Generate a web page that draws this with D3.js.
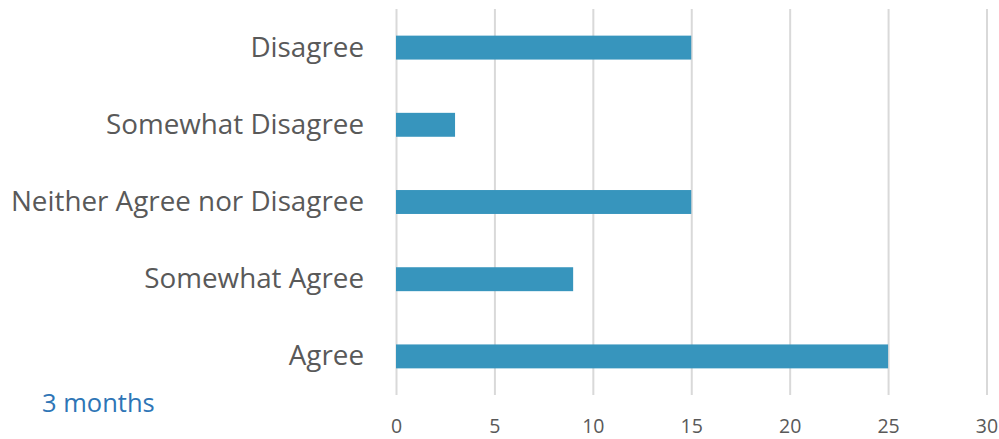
<!DOCTYPE html>
<html>
<head>
<meta charset="utf-8">
<script src="https://cdn.jsdelivr.net/npm/d3@7"></script>
<style>
  body { margin: 0; background: #fff; }
  svg { display: block; font-family: "Open Sans", "Noto Sans", sans-serif; }
  .grid line { stroke: #d9d9d9; stroke-width: 2; }
  .grid path { display: none; }
  .axis text { font-family: "Open Sans", "Noto Sans", sans-serif; fill: #595959; }
  .x-axis text { font-size: 19.5px; }
  .x-axis path, .x-axis line { display: none; }
  .y-axis text { font-size: 27.8px; }
  .y-axis path, .y-axis line { display: none; }
</style>
</head>
<body>
<svg id="chart"></svg>
<script>
// categories from top to bottom
const categories = ["Disagree", "Somewhat Disagree", "Neither Agree nor Disagree", "Somewhat Agree", "Agree"];
const values = [15, 3, 15, 9, 25];
const xTicks = [0, 5, 10, 15, 20, 25, 30];
const seriesLabel = "3 months";

const config = {
  containerWidth: 999,
  containerHeight: 439,
  margin: {top: 9, right: 12.5, bottom: 44, left: 396}
};
const width = config.containerWidth - config.margin.left - config.margin.right;
const height = config.containerHeight - config.margin.top - config.margin.bottom;

const data = categories.map((c, i) => ({category: c, value: values[i]}));

const svg = d3.select("#chart")
  .attr("width", config.containerWidth)
  .attr("height", config.containerHeight);

const chart = svg.append("g")
  .attr("transform", `translate(${config.margin.left},${config.margin.top})`);

const xScale = d3.scaleLinear()
  .domain([0, 30])
  .range([0, width]);

const yScale = d3.scaleBand()
  .domain(categories)
  .range([0, height])
  .paddingInner(0.69)
  .paddingOuter(0.345);

// vertical gridlines
chart.append("g")
  .attr("class", "grid")
  .call(d3.axisBottom(xScale).tickValues(xTicks).tickSize(height).tickFormat(""));

// bars
chart.selectAll(".bar")
  .data(data)
  .join("rect")
  .attr("class", "bar")
  .attr("x", xScale(0))
  .attr("y", d => yScale(d.category))
  .attr("width", d => xScale(d.value) - xScale(0))
  .attr("height", yScale.bandwidth())
  .style("fill", "#3795bd");

// x axis labels
chart.append("g")
  .attr("class", "axis x-axis")
  .attr("transform", `translate(0,${height})`)
  .call(d3.axisBottom(xScale).tickValues(xTicks).tickSize(0).tickPadding(24));

// category labels
chart.append("g")
  .attr("class", "axis y-axis")
  .call(d3.axisLeft(yScale).tickSize(0).tickPadding(32));

// series label
svg.append("text")
  .attr("x", 42)
  .attr("y", 412)
  .style("font-size", "25.5px")
  .style("fill", "#2e75b6")
  .text(seriesLabel);
</script>
</body>
</html>
